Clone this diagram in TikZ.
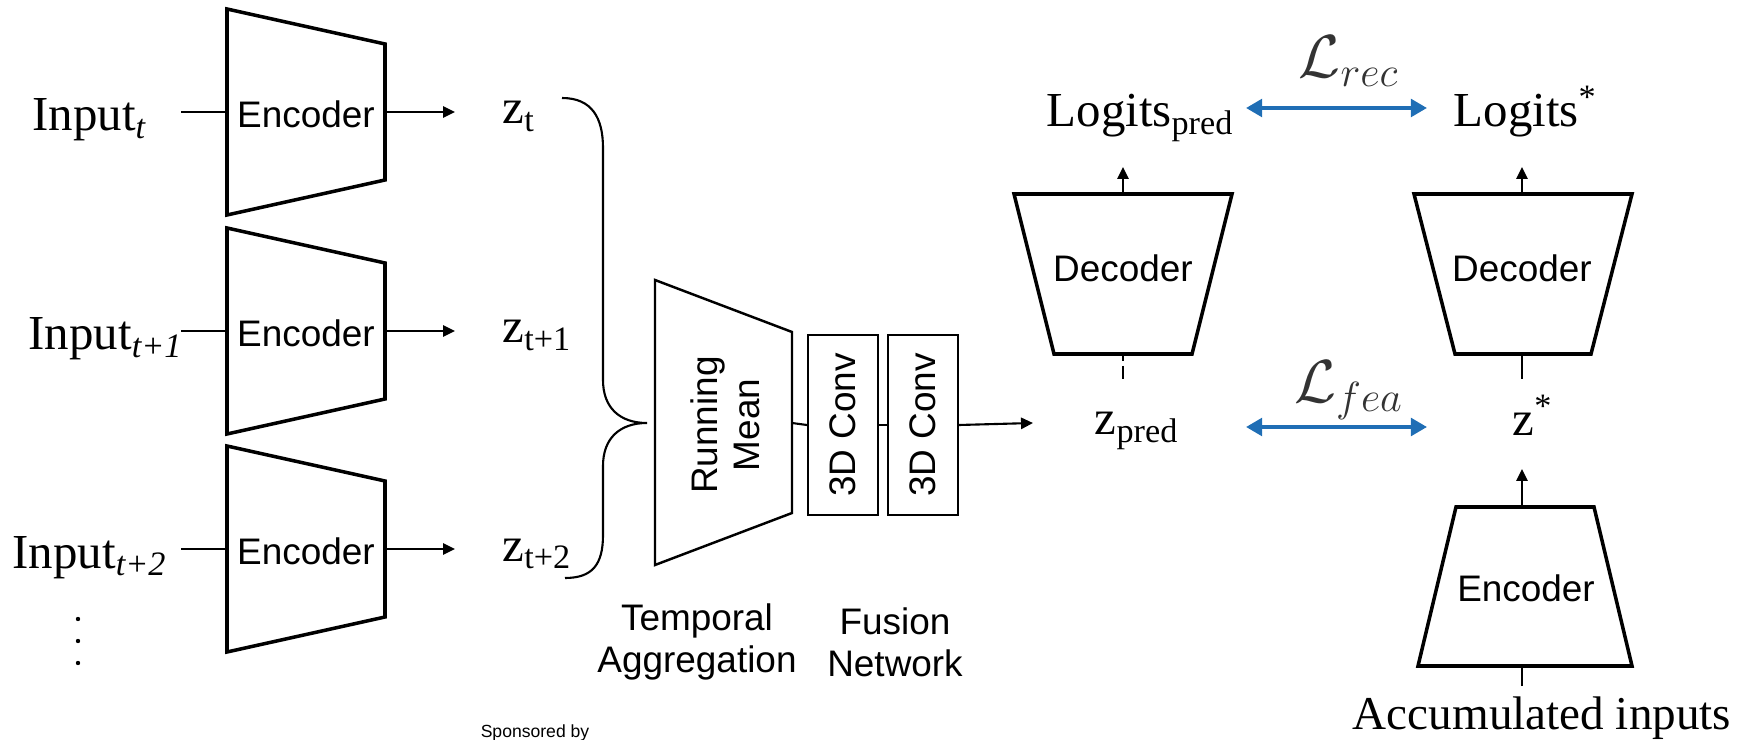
\documentclass[tikz,border=0pt]{standalone}
\usepackage{fontspec}
\setmainfont{Liberation Serif}
\setsansfont{Liberation Sans}
\usetikzlibrary{arrows.meta,positioning}
\definecolor{lossblue}{RGB}{31,110,181}
\tikzset{
  coder/.style={draw, line width=1pt, line join=miter},
  box/.style={draw, line width=0.6pt, minimum width=1.8cm, minimum height=0.7cm, inner sep=0pt},
  conn/.style={line width=0.6pt},
  arr/.style={conn, -{Triangle[length=3.4pt,width=3.2pt]}},
  loss/.style={line width=1.1pt, draw=lossblue, {Triangle[length=4.6pt,width=5pt]}-{Triangle[length=4.6pt,width=5pt]}},
  sans/.style={font=\sffamily\fontsize{10.5}{12}\selectfont, align=center, inner sep=0pt},
  serif/.style={font=\fontsize{13.9}{16}\selectfont, inner sep=0pt},
  lossname/.style={font=\fontsize{17.5}{20}\selectfont, text=black!80, inner sep=0pt}
}
\begin{document}
\begin{tikzpicture}[x=0.01cm, y=-0.01cm]
\useasboundingbox (0,0) rectangle (1748,740);

% encoders for each time step
\foreach \n/\y/\ix/\sub in {1/112/90/{t}, 2/331/106/{t+1}, 3/549/90/{t+2}} {
  \draw[coder] (227,\y-103) -- (385,\y-68) -- (385,\y+68) -- (227,\y+103) -- cycle;
  \node[sans] (enc\n) at (306,\y+2) {Encoder};
  \coordinate (enc\n w) at (227,\y);
  \coordinate (enc\n e) at (385,\y);
  \coordinate (in\n end) at (181,\y);
  \coordinate (z\n in) at (455,\y);
  \node[serif, anchor=base] (in\n) at (\ix,\y+19) {Input\textsubscript{\textit{\sub}}};
  \node[serif, anchor=base west] (z\n) at (502,\y+12) {z\textsubscript{\sub}};
  \draw[conn] (in\n end) -- (enc\n w);
  \draw[arr] (enc\n e) -- (z\n in);
}
% more time steps
\foreach \d in {619,641,663}
  \fill (78,\d) circle (2.2);

% brace into temporal aggregation
\coordinate (rmw) at (647,423);
\draw[conn] (562,98) .. controls (592,98) and (603,118) .. (603,148)
  -- (603,380) .. controls (603,408) and (620,423) .. (rmw)
  .. controls (620,423) and (603,438) .. (603,466)
  -- (603,535) .. controls (603,565) and (592,578) .. (565,578);

% running mean and fusion network
\draw[line width=0.7pt] (655,280) -- (792,332) -- (792,513) -- (655,565) -- cycle;
\node[sans, rotate=90] (rm) at (725,425) {Running\\Mean};
\coordinate (rme) at (792,423);
\node[box, rotate=90, sans] (conv1) at (843,425) {3D Conv};
\node[box, rotate=90, sans] (conv2) at (923,425) {3D Conv};
\coordinate (zpredin) at (1033,423);
\draw[conn] (rme) -- (conv1.north);
\draw[conn] (conv1.south) -- (conv2.north);
\draw[arr] (conv2.south) -- (zpredin);
\node[sans] (tagg) at (697,642) {Temporal\\Aggregation};
\node[sans] (fnet) at (895,642) {Fusion\\Network};

% predicted branch
\node[serif, anchor=base] (zpred) at (1137,435) {z\textsubscript{pred}};
\draw[coder] (1014,194) -- (1232,194) -- (1192,354) -- (1054,354) -- cycle;
\node[sans] (dec1) at (1123,268) {Decoder};
\coordinate (dec1n) at (1123,194);
\coordinate (dec1s) at (1123,354);
\coordinate (dec1out) at (1123,167);
\coordinate (zpredtop) at (1123,379);
\draw[conn, dash pattern=on 2pt off 1.4pt on 4pt off 1pt] (dec1s) -- (zpredtop);
\draw[arr] (dec1n) -- (dec1out);
\node[serif, anchor=base west] (lpred) at (1046,127) {Logits\textsubscript{pred}};

% target branch
\draw[coder] (1414,194) -- (1632,194) -- (1591,354) -- (1455,354) -- cycle;
\node[sans] (dec2) at (1522,268) {Decoder};
\coordinate (dec2n) at (1522,194);
\coordinate (dec2s) at (1522,354);
\coordinate (dec2out) at (1522,167);
\coordinate (zstartop) at (1522,379);
\draw[conn] (dec2s) -- (zstartop);
\draw[arr] (dec2n) -- (dec2out);
\node[serif, anchor=base west] (lstar) at (1453,127) {Logits\textsuperscript{*}};
\node[serif, anchor=base west] (zstar) at (1512,436) {z\textsuperscript{*}};

\draw[coder] (1456,507) -- (1594,507) -- (1632,666) -- (1418,666) -- cycle;
\node[sans] (enc4) at (1526,588) {Encoder};
\coordinate (enc4n) at (1522,507);
\coordinate (enc4s) at (1522,666);
\coordinate (zstarbot) at (1522,469);
\coordinate (accin) at (1522,686);
\draw[arr] (enc4n) -- (zstarbot);
\draw[conn] (accin) -- (enc4s);
\node[serif, anchor=base, font=\fontsize{13.4}{16}\selectfont] (acc) at (1542,729) {Accumulated inputs};

% losses
\coordinate (recl) at (1246,108);
\coordinate (recr) at (1427,108);
\coordinate (feal) at (1246,427);
\coordinate (fear) at (1427,427);
\draw[loss] (recl) -- (recr);
\draw[loss] (feal) -- (fear);
\node[lossname] (lrec) at (1349,61) {$\mathcal{L}_{rec}$};
\node[lossname] (lfea) at (1349,390) {$\mathcal{L}_{fea}$};

\node[font=\sffamily\fontsize{5}{6}\selectfont, inner sep=0pt, anchor=base] (spons) at (535,738) {Sponsored by};
\end{tikzpicture}
\end{document}
